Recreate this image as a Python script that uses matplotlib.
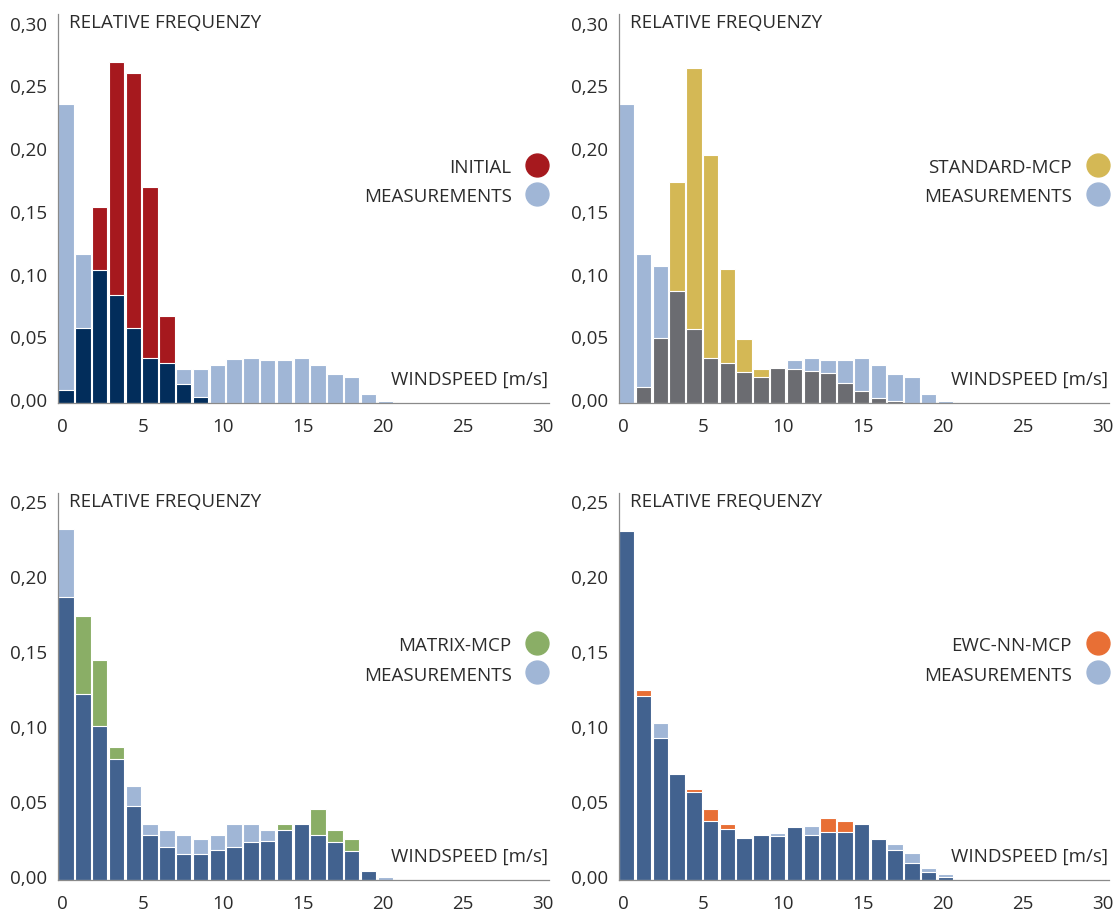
import numpy as np
import matplotlib

matplotlib.use("Agg")
import matplotlib.pyplot as plt
from matplotlib.ticker import FuncFormatter
from matplotlib.transforms import ScaledTranslation

plt.rcParams["font.family"] = ["Open Sans", "DejaVu Sans"]

# relative frequency per wind speed bin (bin 0 .. 19)
meas_initial = [0.238, 0.119, 0.106, 0.086, 0.060, 0.036, 0.032, 0.027, 0.027, 0.030,
                0.035, 0.036, 0.034, 0.034, 0.036, 0.030, 0.023, 0.021, 0.007, 0.002]
initial = [0.010, 0.060, 0.156, 0.272, 0.263, 0.172, 0.069, 0.015, 0.005, 0.0,
           0.0, 0.0, 0.0, 0.0, 0.0, 0.0, 0.0, 0.0, 0.0, 0.0]

meas_standard = [0.238, 0.119, 0.109, 0.089, 0.059, 0.036, 0.032, 0.025, 0.021, 0.028,
                 0.034, 0.036, 0.034, 0.034, 0.036, 0.030, 0.023, 0.021, 0.007, 0.002]
standard_mcp = [0.0, 0.0125, 0.052, 0.176, 0.267, 0.198, 0.107, 0.051, 0.027, 0.028,
                0.027, 0.0255, 0.024, 0.016, 0.0096, 0.004, 0.002, 0.0, 0.0, 0.0]

meas_matrix = [0.234, 0.124, 0.103, 0.081, 0.063, 0.037, 0.033, 0.030, 0.027, 0.030,
               0.037, 0.037, 0.033, 0.033, 0.037, 0.030, 0.025, 0.019, 0.006, 0.002]
matrix_mcp = [0.189, 0.176, 0.147, 0.089, 0.049, 0.030, 0.022, 0.017, 0.017, 0.020,
              0.022, 0.025, 0.026, 0.037, 0.037, 0.047, 0.033, 0.027, 0.006, 0.0]

meas_ewc = [0.233, 0.123, 0.105, 0.071, 0.059, 0.039, 0.034, 0.028, 0.030, 0.031,
            0.035, 0.036, 0.032, 0.032, 0.037, 0.027, 0.024, 0.018, 0.008, 0.004]
ewc_nn_mcp = [0.233, 0.127, 0.095, 0.071, 0.061, 0.047, 0.037, 0.028, 0.030, 0.029,
              0.035, 0.030, 0.041, 0.039, 0.037, 0.027, 0.020, 0.011, 0.005, 0.002]

x_ticks = [0, 5, 10, 15, 20, 25, 30]

MEAS_COLOR = "#A0B6D6"
TEXT_COLOR = "#2B2B2B"
AXIS_COLOR = "#8A8A8A"
FS = 13.5

BIN_START = -0.275
BIN_WIDTH = 1.05


def comma(v, pos):
    return f"{v:.2f}".replace(".", ",")


def draw_panel(ax, meas, model, label, color, dark, ymax, yticks):
    meas = np.array(meas)
    model = np.array(model)
    left = BIN_START + BIN_WIDTH * np.arange(len(meas))
    top = np.maximum(meas, model)
    low = np.minimum(meas, model)
    top_color = [MEAS_COLOR if m >= p else color for m, p in zip(meas, model)]

    kw = dict(width=BIN_WIDTH * 0.92, align="edge", edgecolor="white", linewidth=0.8)
    ax.bar(left, top, color=top_color, **kw)
    keep = low > 0
    ax.bar(left[keep], low[keep], color=dark, **kw)

    ax.set_xlim(BIN_START, 30.41)
    ax.set_ylim(0, ymax)
    ax.set_xticks(x_ticks)
    ax.set_yticks(yticks)
    ax.yaxis.set_major_formatter(FuncFormatter(comma))
    ax.tick_params(length=0, labelsize=FS, colors=TEXT_COLOR)
    ax.tick_params(axis="x", pad=10)
    ax.tick_params(axis="y", pad=8)
    shift = ScaledTranslation(0, 4 / 100, ax.figure.dpi_scale_trans)
    for t in ax.yaxis.get_major_ticks():
        t.label1.set_transform(t.label1.get_transform() + shift)

    for side in ["top", "right"]:
        ax.spines[side].set_visible(False)
    for side in ["left", "bottom"]:
        ax.spines[side].set_color(AXIS_COLOR)
        ax.spines[side].set_linewidth(0.9)

    ax.text(0.0224, 0.98, "RELATIVE FREQUENZY", transform=ax.transAxes,
            ha="left", va="center", fontsize=FS, color=TEXT_COLOR)
    ax.text(0.998, 0.0635, "WINDSPEED [m/s]", transform=ax.transAxes,
            ha="right", va="center", fontsize=FS, color=TEXT_COLOR)

    # legend: text + round marker
    for y, name, c in [(0.607, label, color), (0.531, "MEASUREMENTS", MEAS_COLOR)]:
        ax.text(0.9235, y, name, transform=ax.transAxes, ha="right", va="center",
                fontsize=FS, color=TEXT_COLOR)
        ax.plot([0.976], [y + 0.006], marker="o", markersize=16.5, color=c,
                transform=ax.transAxes, clip_on=False, linestyle="none")


fig = plt.figure(figsize=(11.13, 9.12), dpi=100)

ax1 = fig.add_axes([0.0524, 0.5570, 0.4411, 0.4265])
ax2 = fig.add_axes([0.5562, 0.5570, 0.4405, 0.4265])
ax3 = fig.add_axes([0.0524, 0.0340, 0.4411, 0.4243])
ax4 = fig.add_axes([0.5562, 0.0340, 0.4405, 0.4243])

top_ticks = np.arange(0, 0.301, 0.05)
bottom_ticks = np.arange(0, 0.251, 0.05)

draw_panel(ax1, meas_initial, initial, "INITIAL", "#A6191E", "#022D5B", 0.31, top_ticks)
draw_panel(ax2, meas_standard, standard_mcp, "STANDARD-MCP", "#D4B855", "#6B6C71", 0.31, top_ticks)
draw_panel(ax3, meas_matrix, matrix_mcp, "MATRIX-MCP", "#8AAE66", "#42628F", 0.258, bottom_ticks)
draw_panel(ax4, meas_ewc, ewc_nn_mcp, "EWC-NN-MCP", "#E86F35", "#42628F", 0.258, bottom_ticks)

fig.savefig("out.png", dpi=100)
plt.close(fig)
